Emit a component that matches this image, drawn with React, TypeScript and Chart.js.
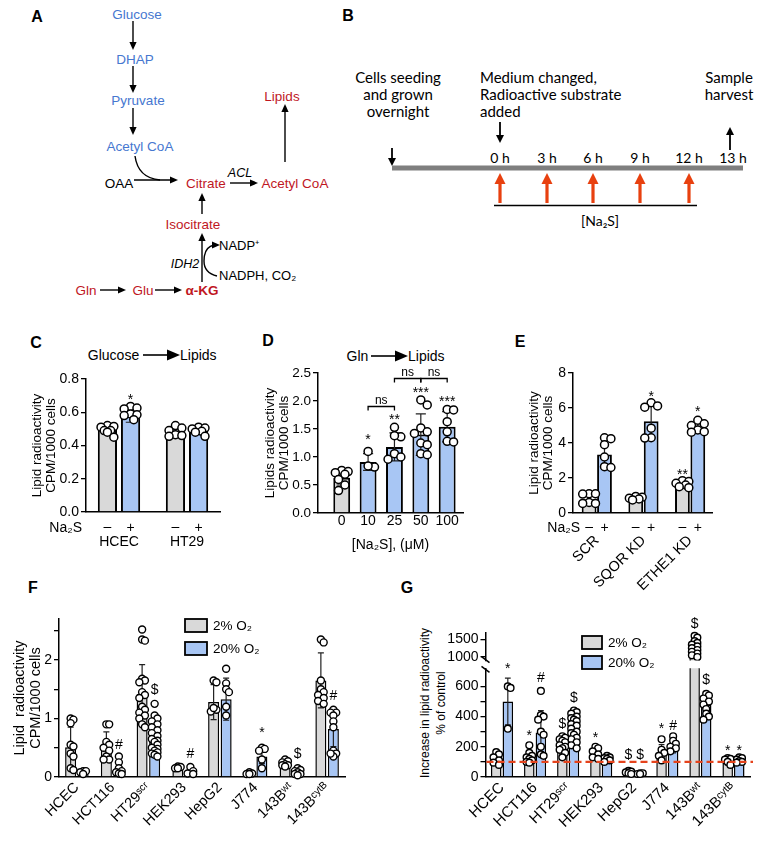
import React, { useEffect, useRef } from 'react';
import { Chart, registerables } from 'chart.js';

Chart.register(...registerables);

const FONT = '"Liberation Sans", Arial, Helvetica, sans-serif';
const FONT_B = 'Lato, "Liberation Sans", sans-serif';
const GRAY = '#d9d9d9';
const BLUE = '#a8c6f4';
const TXT_BLUE = '#4677d0';
const TXT_RED = '#c0171f';
const ARROW_RED = '#e8400f';

Chart.defaults.font.family = FONT;
Chart.defaults.color = '#000';

// ---------------- Panel C : Glucose -> Lipids ----------------
const cGroups = ['HCEC', 'HT29'];
const cCtrlMeans = [0.5, 0.48];
const cCtrlSds = [0.02, 0.025];
const cNa2sMeans = [0.58, 0.49];
const cNa2sSds = [0.04, 0.02];
const cCtrlPoints = [
  [0.52, 0.515, 0.51, 0.49, 0.49, 0.48, 0.45],
  [0.52, 0.505, 0.49, 0.465, 0.46, 0.455],
];
const cNa2sPoints = [
  [0.635, 0.625, 0.62, 0.59, 0.585, 0.58, 0.555],
  [0.51, 0.505, 0.5, 0.485, 0.48, 0.455],
];
const cSigns = [['–', '–'], ['+', '+']];
const cYTicks = [0, 0.2, 0.4, 0.6, 0.8];
const cYLabels = ['0.0', '0.2', '0.4', '0.6', '0.8'];
const cNotes = [{ g: 0, s: 1, y: 0.69, t: '*' }];

// ---------------- Panel D : Gln -> Lipids ----------------
const dGroups = ['0', '10', '25', '50', '100'];
const dMeans = [0.63, 0.91, 1.18, 1.4, 1.54];
const dSds = [0.13, 0.15, 0.25, 0.37, 0.27];
const dPoints = [
  [0.76, 0.74, 0.72, 0.69, 0.6, 0.5, 0.4],
  [1.1, 0.82, 0.84],
  [1.53, 1.36, 1.38, 1.06, 0.96, 1.0],
  [2.02, 1.93, 1.52, 1.45, 1.42, 1.25, 1.22, 1.06, 1.04],
  [1.85, 1.84, 1.63, 1.45, 1.28, 1.27],
];
const dYTicks = [0, 0.5, 1, 1.5, 2, 2.5];
const dYLabels = ['0.0', '0.5', '1.0', '1.5', '2.0', '2.5'];
const dNotes = [
  { g: 1, s: 0, y: 1.36, t: '*' },
  { g: 2, s: 0, y: 1.71, t: '**' },
  { g: 3, s: 0, y: 2.2, t: '***' },
  { g: 4, s: 0, y: 2.04, t: '***' },
];
const dBrackets = [
  { g1: 1, g2: 2, y: 1.91, t: 'ns' },
  { g1: 2, g2: 3, y: 2.41, t: 'ns' },
  { g1: 3, g2: 4, y: 2.41, t: 'ns' },
];

// ---------------- Panel E : knock-downs ----------------
const eGroups = ['SCR', 'SQOR KD', 'ETHE1 KD'];
const eCtrlMeans = [0.78, 0.82, 1.65];
const eCtrlSds = [0.25, 0.08, 0.15];
const eNa2sMeans = [3.35, 5.25, 4.85];
const eNa2sSds = [0.72, 0.85, 0.25];
const eCtrlPoints = [
  [1.1, 1.1, 1.08, 0.6, 0.55, 0.55],
  [0.95, 0.9, 0.85, 0.8, 0.75],
  [1.85, 1.8, 1.7, 1.6, 1.5, 1.45],
];
const eNa2sPoints = [
  [4.3, 4.25, 3.9, 3.2, 2.65, 2.6],
  [6.3, 6.12, 6.05, 4.85, 4.3, 4.28],
  [5.3, 5.1, 5.0, 4.75, 4.65, 4.62],
];
const eSigns = [['–', '–', '–'], ['+', '+', '+']];
const eYTicks = [0, 2, 4, 6, 8];
const eYLabels = ['0', '2', '4', '6', '8'];
const eNotes = [
  { g: 1, s: 1, y: 6.8, t: '*' },
  { g: 2, s: 1, y: 5.94, t: '*' },
  { g: 2, s: 0, y: 2.36, t: '**' },
];

// ---------------- Panel F : cell lines, CPM ----------------
const cellLines = ['HCEC', 'HCT116', 'HT29ˢᶜʳ', 'HEK293', 'HepG2', 'J774', '143Bʷᵗ', '143Bᶜʸᵗᴮ'];
const oxLabels = ['2% O₂', '20% O₂'];
const fMeans2 = [0.51, 0.55, 1.42, 0.15, 1.28, 0.05, 0.22, 1.65];
const fSds2 = [0.34, 0.22, 0.5, 0.02, 0.3, 0.02, 0.04, 0.47];
const fMeans20 = [0.07, 0.13, 0.6, 0.07, 1.33, 0.35, 0.08, 0.82];
const fSds20 = [0.02, 0.1, 0.25, 0.05, 0.36, 0.12, 0.04, 0.3];
const fPoints2 = [
  [1.0, 0.98, 0.92, 0.55, 0.52, 0.4, 0.35, 0.15, 0.12],
  [0.9, 0.9, 0.6, 0.55, 0.5, 0.45, 0.35, 0.3, 0.3],
  [2.52, 2.35, 2.33, 1.68, 1.65, 1.62, 1.45, 1.4, 1.35, 1.2, 1.15, 1.1, 1.05, 1.0, 0.9, 0.85],
  [0.18, 0.17, 0.15, 0.15],
  [1.65, 1.62, 1.15, 1.12, 1.18],
  [0.08, 0.06, 0.05, 0.05],
  [0.3, 0.27, 0.25, 0.22, 0.2, 0.2, 0.18],
  [2.35, 2.3, 1.65, 1.5, 1.45, 1.4, 1.35, 1.3, 1.25],
];
const fPoints20 = [
  [0.1, 0.08, 0.1, 0.05],
  [0.35, 0.25, 0.15, 0.1, 0.08, 0.06, 0.05],
  [1.25, 1.05, 1.0, 0.95, 0.9, 0.85, 0.8, 0.75, 0.7, 0.65, 0.62, 0.6, 0.55, 0.5, 0.48, 0.45, 0.42, 0.4, 0.38, 0.35],
  [0.17, 0.1, 0.06, 0.05],
  [1.85, 1.6, 1.5, 1.45, 1.2, 1.05],
  [0.5, 0.48, 0.45, 0.3, 0.15],
  [0.15, 0.12, 0.1, 0.08, 0.05, 0.05, 0.03],
  [1.15, 1.1, 1.1, 1.05, 0.95, 0.85, 0.45, 0.4, 0.35, 0.4],
];
const fYTicks = [0, 0.5, 1, 1.5, 2, 2.5];
const fYLabels = ['0', '', '1', '', '2', ''];
const fNotes = [
  { g: 1, s: 1, y: 0.56, t: '#' },
  { g: 2, s: 1, y: 1.5, t: '$' },
  { g: 3, s: 1, y: 0.41, t: '#' },
  { g: 5, s: 1, y: 0.8, t: '*' },
  { g: 6, s: 1, y: 0.41, t: '$' },
  { g: 7, s: 1, y: 1.4, t: '#' },
];

// ---------------- Panel G : % of control ----------------
const gMeans2 = [110, 130, 210, 155, 32, 160, 1250, 95];
const gSds2 = [30, 40, 45, 30, 8, 55, 200, 15];
const gMeans20 = [500, 295, 320, 105, 22, 195, 480, 100];
const gSds20 = [155, 145, 75, 15, 3, 35, 60, 15];
const gPoints2 = [
  [165, 150, 130, 110, 95, 80],
  [210, 160, 140, 130, 120, 110, 100, 95],
  [270, 260, 250, 240, 230, 210, 200, 190, 180, 160, 130],
  [200, 190, 170, 150, 130, 120],
  [40, 35, 30, 25, 20],
  [250, 180, 160, 140, 110],
  [1600, 1550, 1450, 1400, 1350, 1300, 1250, 1200, 1150, 1100, 1050, 1000],
  [125, 120, 115, 100, 80],
];
const gPoints20 = [
  [600, 590, 320],
  [570, 410, 400, 380, 300, 280, 200, 150, 140],
  [440, 430, 420, 400, 390, 380, 370, 350, 340, 320, 300, 290, 280, 260, 250, 230, 210, 190],
  [140, 130, 125, 120, 110, 100],
  [25, 25, 20, 20],
  [270, 240, 220, 200, 190, 170],
  [550, 540, 520, 500, 480, 450, 420, 400, 380],
  [130, 125, 115, 105, 100, 95],
];
const gLowerTicks = [0, 100, 200, 300, 400, 500, 600];
const gLowerLabels = ['0', '', '200', '', '400', '', '600'];
const gUpperTicks = [1000, 1500];
const gUpperLabels = ['1000', '1500'];
const gLowerMax = 720;
const gUpperMin = 900;
const gUpperMax = 1680;
const gControlLevel = 100;
const gNotes = [
  { g: 0, s: 1, y: 735, t: '*' },
  { g: 1, s: 0, y: 291, t: '*' },
  { g: 1, s: 1, y: 662, t: '#' },
  { g: 2, s: 0, y: 358, t: '$' },
  { g: 2, s: 1, y: 530, t: '$' },
  { g: 3, s: 0, y: 278, t: '*' },
  { g: 4, s: 0, y: 152, t: '$' },
  { g: 4, s: 1, y: 152, t: '$' },
  { g: 5, s: 0, y: 338, t: '*' },
  { g: 5, s: 1, y: 344, t: '#' },
  { g: 6, s: 0, y: 1970, t: '$' },
  { g: 6, s: 1, y: 649, t: '$' },
  { g: 7, s: 0, y: 192, t: '*' },
  { g: 7, s: 1, y: 192, t: '*' },
];

// ======================================================================

type Series = { means: number[]; sds: number[]; points: number[][]; colors: any };
type Note = { g: number; s: number; y: number; t: string };
type Bracket = { g1: number; g2: number; y: number; t: string };
type Spec = any;

function placeSwarm(chart: any, p: Spec) {
  chart.data.datasets.forEach((ds: any, di: number) => {
    if (ds.swarmOf === undefined) return;
    const meta = chart.getDatasetMeta(di);
    const barMeta = chart.getDatasetMeta(ds.swarmOf);
    const groups: Record<string, any[]> = {};
    meta.data.forEach((el: any, j: number) => {
      const g = ds.data[j].x;
      (groups[g] = groups[g] || []).push(el);
    });
    Object.keys(groups).forEach((k) => {
      const bar: any = barMeta.data[+k];
      if (!bar) return;
      const cx = bar.x;
      const half = bar.width / 2;
      const r = p.radius;
      const minD = 2 * r * p.swarmOverlap;
      const step = r * 0.8;
      const maxOff = Math.max(half * p.swarmWidth, r);
      const els = groups[k].slice().sort((a: any, b: any) => a.y - b.y);
      const placed: { x: number; y: number }[] = [];
      els.forEach((el: any) => {
        let best = 0;
        let bestScore = -Infinity;
        for (let n = 0; n < 30; n++) {
          const off = n === 0 ? 0 : (n % 2 ? 1 : -1) * Math.ceil(n / 2) * step;
          if (Math.abs(off) > maxOff) continue;
          let dmin = Infinity;
          placed.forEach((q) => {
            const d = Math.hypot(cx + off - q.x, el.y - q.y);
            if (d < dmin) dmin = d;
          });
          if (dmin >= minD) { best = off; bestScore = Infinity; break; }
          if (dmin > bestScore) { bestScore = dmin; best = off; }
        }
        el.x = cx + best;
        placed.push({ x: el.x, y: el.y });
      });
    });
  });
}

function drawErrorBar(chart: any, di: number, p: Spec) {
  const ds: any = chart.data.datasets[di];
  if (!ds.sds) return;
  const meta = chart.getDatasetMeta(di);
  const y = chart.scales.y;
  const ctx = chart.ctx;
  ctx.save();
  ctx.beginPath();
  ctx.rect(0, y.top, chart.width, y.bottom - y.top);
  ctx.clip();
  ctx.strokeStyle = '#222';
  ctx.lineWidth = 1.2;
  meta.data.forEach((el: any, i: number) => {
    const m = ds.means[i];
    const s = ds.sds[i];
    if (!s) return;
    const yt = y.getPixelForValue(m + s);
    const yb = y.getPixelForValue(m - s);
    const cw = (el.width * p.capFrac) / 2;
    ctx.beginPath();
    ctx.moveTo(el.x, yb);
    ctx.lineTo(el.x, yt);
    ctx.moveTo(el.x - cw, yt);
    ctx.lineTo(el.x + cw, yt);
    ctx.moveTo(el.x - cw, yb);
    ctx.lineTo(el.x + cw, yb);
    ctx.stroke();
  });
  ctx.restore();
}

function centeredText(ctx: any, t: string, x: number, yc: number) {
  ctx.textBaseline = 'alphabetic';
  const m = ctx.measureText(t);
  ctx.fillText(t, x, yc + (m.actualBoundingBoxAscent - m.actualBoundingBoxDescent) / 2);
}

function drawExtras(chart: any, p: Spec) {
  const ctx = chart.ctx;
  const area = chart.chartArea;
  const y = chart.scales.y;
  const barX = (s: number, g: number) => (chart.getDatasetMeta(s).data[g] as any).x;
  ctx.save();
  ctx.fillStyle = '#000';
  ctx.strokeStyle = '#000';
  if (p.refLine !== undefined) {
    const yy = y.getPixelForValue(p.refLine);
    ctx.save();
    ctx.strokeStyle = '#e5431c';
    ctx.lineWidth = 2.2;
    ctx.setLineDash([7, 4]);
    ctx.beginPath();
    ctx.moveTo(area.left + 1, yy);
    ctx.lineTo(area.right + 3, yy);
    ctx.stroke();
    ctx.restore();
  }
  if (p.notes) {
    ctx.font = `${p.noteFont}px ${FONT}`;
    ctx.textAlign = 'center';
    p.notes.forEach((n: Note) => {
      centeredText(ctx, n.t, barX(n.s, n.g), y.getPixelForValue(n.y));
    });
  }
  if (p.brackets) {
    ctx.lineWidth = 1.3;
    ctx.font = `12px ${FONT}`;
    ctx.textAlign = 'center';
    p.brackets.forEach((b: Bracket) => {
      const x1 = barX(0, b.g1);
      const x2 = barX(0, b.g2);
      const yy = Math.round(y.getPixelForValue(b.y)) + 0.5;
      ctx.beginPath();
      ctx.moveTo(x1, yy + 4);
      ctx.lineTo(x1, yy);
      ctx.lineTo(x2, yy);
      ctx.lineTo(x2, yy + 4);
      ctx.stroke();
      centeredText(ctx, b.t, (x1 + x2) / 2, yy - 6.5);
    });
  }
  if (p.signs) {
    const sg = p.signs;
    ctx.font = `${sg.font}px ${FONT}`;
    ctx.textAlign = 'center';
    sg.labels.forEach((row: string[], s: number) => {
      row.forEach((t, g) => centeredText(ctx, t, barX(s, g), area.bottom + sg.dy));
    });
    ctx.textAlign = 'right';
    ctx.textBaseline = 'middle';
    ctx.fillText(sg.name, area.left + sg.nameDx, area.bottom + sg.dy + 1);
  }
  if (p.legend) {
    const lg = p.legend;
    lg.labels.forEach((t: string, i: number) => {
      const x0 = area.left + lg.dx;
      const y0 = area.top + lg.dy + i * lg.step;
      ctx.fillStyle = lg.colors[i];
      ctx.fillRect(x0, y0, lg.w, lg.h);
      ctx.lineWidth = 1.8;
      ctx.strokeStyle = '#000';
      ctx.strokeRect(x0, y0, lg.w, lg.h);
      ctx.fillStyle = '#000';
      ctx.font = `${lg.font}px ${FONT}`;
      ctx.textAlign = 'left';
      ctx.textBaseline = 'middle';
      ctx.fillText(t, x0 + lg.w + 6, y0 + lg.h / 2 + 0.5);
    });
  }
  if (p.breakMark) {
    ctx.lineWidth = 1.5;
    ctx.strokeStyle = '#000';
    const bx = area.left;
    const by = p.breakMark === 'top' ? area.top : area.bottom;
    ctx.beginPath();
    if (p.breakMark === 'top') {
      ctx.moveTo(bx - 4, by - 2);
      ctx.lineTo(bx + 4, by + 4);
    } else {
      ctx.moveTo(bx - 4, by - 4);
      ctx.lineTo(bx + 4, by + 2);
    }
    ctx.stroke();
  }
  ctx.restore();
}

function buildConfig(p: Spec): any {
  const datasets: any[] = [];
  p.series.forEach((s: Series) => {
    datasets.push({
      type: 'bar',
      data: s.means.map((m, i) => ({ x: i, y: m })),
      backgroundColor: s.colors,
      borderColor: '#000',
      borderWidth: p.barBorder,
      categoryPercentage: p.catPct,
      barPercentage: p.barPct,
      order: 2,
      clip: 0,
      means: s.means,
      sds: s.sds,
    });
  });
  p.series.forEach((s: Series, si: number) => {
    datasets.push({
      type: 'scatter',
      data: s.points.flatMap((arr, g) => arr.map((v) => ({ x: g, y: v }))),
      pointRadius: p.radius,
      pointHoverRadius: p.radius,
      pointBackgroundColor: '#fff',
      pointBorderColor: '#000',
      pointBorderWidth: p.pointBorder,
      order: 1,
      clip: p.pointClip,
      swarmOf: si,
    });
  });

  return {
    type: 'bar',
    data: { datasets },
    options: {
      responsive: false,
      animation: false,
      devicePixelRatio: 1,
      events: [],
      layout: { padding: p.pad },
      plugins: { legend: { display: false }, tooltip: { enabled: false } },
      scales: {
        x: {
          type: 'linear',
          min: p.xMin,
          max: p.xMax,
          bounds: 'data',
          offset: false,
          display: p.showX,
          afterBuildTicks: (s: any) => { s.ticks = p.groups.map((_: string, i: number) => ({ value: i })); },
          afterFit: (s: any) => { if (p.showX) s.height = p.xh; },
          ticks: {
            autoSkip: false,
            minRotation: p.rot,
            maxRotation: p.rot,
            padding: p.xPad,
            font: { family: FONT, size: p.xFont },
            color: '#000',
            callback: (_v: any, i: number) => p.groups[i],
          },
          grid: { display: false, drawTicks: false, offset: false },
          border: { display: true, color: '#000', width: 1.5 },
          title: p.xTitle
            ? { display: true, text: p.xTitle, font: { family: FONT, size: p.xTitleFont }, color: '#000', padding: 0 }
            : { display: false },
        },
        y: {
          type: 'linear',
          min: p.yMin,
          max: p.yMax,
          bounds: 'data',
          afterBuildTicks: (s: any) => { s.ticks = p.yTicks.map((v: number) => ({ value: v })); },
          afterFit: (s: any) => { s.width = p.yw; },
          ticks: {
            autoSkip: false,
            padding: 2,
            font: { family: FONT, size: p.yTickFont },
            color: '#000',
            callback: (_v: any, i: number) => p.yLabels[i],
          },
          grid: { display: true, drawOnChartArea: false, drawTicks: true, tickLength: 5, color: '#000', lineWidth: 1.3 },
          border: { display: true, color: '#000', width: 1.5 },
          title: p.yTitle
            ? { display: true, text: p.yTitle, font: { family: FONT, size: p.yTitleFont, lineHeight: p.yTitleLH }, color: '#000', padding: 0 }
            : { display: false },
        },
      },
    },
    plugins: [
      {
        id: 'extras',
        beforeDatasetsDraw(chart: any) { placeSwarm(chart, p); },
        afterDatasetDraw(chart: any, args: any) { drawErrorBar(chart, args.index, p); },
        afterDraw(chart: any) { drawExtras(chart, p); },
      },
    ],
  };
}

const specC: Spec = {
  box: { left: 31, top: 365, width: 199, height: 192 },
  yw: 55, xh: 45, pad: { top: 14, right: 10, bottom: 0, left: 0 },
  xMin: -0.485, xMax: 1.485, yMin: 0, yMax: 0.8,
  yTicks: cYTicks, yLabels: cYLabels, yTickFont: 14,
  groups: cGroups, showX: true, rot: 0, xPad: 22, xFont: 14,
  catPct: 0.68, barPct: 0.83, barBorder: 2,
  series: [
    { means: cCtrlMeans, sds: cCtrlSds, points: cCtrlPoints, colors: GRAY },
    { means: cNa2sMeans, sds: cNa2sSds, points: cNa2sPoints, colors: BLUE },
  ],
  radius: 4, pointBorder: 1.5, pointClip: false, capFrac: 0.5, swarmOverlap: 0.85, swarmWidth: 1.0,
  yTitle: ['Lipid radioactivity', 'CPM/1000 cells'], yTitleFont: 13.5, yTitleLH: 1.0,
  notes: cNotes, noteFont: 14,
  signs: { labels: cSigns, dy: 15, name: 'Na₂S', nameDx: -4, font: 14 },
};

const specD: Spec = {
  box: { left: 264, top: 359, width: 211, height: 195 },
  yw: 54, xh: 41, pad: { top: 14, right: 12, bottom: 0, left: 0 },
  xMin: -0.9, xMax: 4.6, yMin: 0, yMax: 2.5,
  yTicks: dYTicks, yLabels: dYLabels, yTickFont: 13.5,
  groups: dGroups, showX: true, rot: 0, xPad: 0, xFont: 14,
  catPct: 0.8, barPct: 0.8, barBorder: 2,
  series: [{ means: dMeans, sds: dSds, points: dPoints, colors: [GRAY, BLUE, BLUE, BLUE, BLUE] }],
  radius: 4, pointBorder: 1.5, pointClip: false, capFrac: 0.6, swarmOverlap: 0.85, swarmWidth: 1.1,
  yTitle: ['Lipids radioactivity', 'CPM/1000 cells'], yTitleFont: 13.5, yTitleLH: 1.0,
  xTitle: '[Na₂S], (μM)', xTitleFont: 14,
  notes: dNotes, noteFont: 14, brackets: dBrackets,
};

const specE: Spec = {
  box: { left: 528, top: 359, width: 195, height: 249 },
  yw: 45, xh: 95, pad: { top: 14, right: 10, bottom: 0, left: 0 },
  xMin: -0.51, xMax: 2.47, yMin: 0, yMax: 8,
  yTicks: eYTicks, yLabels: eYLabels, yTickFont: 14,
  groups: eGroups, showX: true, rot: 45, xPad: 19, xFont: 14.5,
  catPct: 0.66, barPct: 0.96, barBorder: 2,
  series: [
    { means: eCtrlMeans, sds: eCtrlSds, points: eCtrlPoints, colors: GRAY },
    { means: eNa2sMeans, sds: eNa2sSds, points: eNa2sPoints, colors: BLUE },
  ],
  radius: 4, pointBorder: 1.5, pointClip: false, capFrac: 0.5, swarmOverlap: 0.85, swarmWidth: 1.0,
  yTitle: ['Lipid radioactivity', 'CPM/1000 cells'], yTitleFont: 13.5, yTitleLH: 1.0,
  notes: eNotes, noteFont: 14,
  signs: { labels: eSigns, dy: 14, name: 'Na₂S', nameDx: 7, font: 14 },
};

const specF: Spec = {
  box: { left: 12, top: 605, width: 343, height: 236 },
  yw: 47, xh: 64, pad: { top: 14, right: 10, bottom: 0, left: 0 },
  xMin: -0.5, xMax: 7.5, yMin: 0, yMax: 2.7,
  yTicks: fYTicks, yLabels: fYLabels, yTickFont: 14,
  groups: cellLines, showX: true, rot: 45, xPad: 2, xFont: 14.5,
  catPct: 0.7, barPct: 0.88, barBorder: 1.5,
  series: [
    { means: fMeans2, sds: fSds2, points: fPoints2, colors: GRAY },
    { means: fMeans20, sds: fSds20, points: fPoints20, colors: BLUE },
  ],
  radius: 3.5, pointBorder: 1.4, pointClip: false, capFrac: 0.55, swarmOverlap: 0.6, swarmWidth: 0.75,
  yTitle: ['Lipid  radioactivity', 'CPM/1000 cells'], yTitleFont: 14.5, yTitleLH: 1.1,
  notes: fNotes, noteFont: 14,
  legend: { dx: 126, dy: 0, w: 22, h: 13, step: 23, labels: oxLabels, colors: [GRAY, BLUE], font: 13.5 },
};

const gSeries = [
  { means: gMeans2, sds: gSds2, points: gPoints2, colors: GRAY },
  { means: gMeans20, sds: gSds20, points: gPoints20, colors: BLUE },
];

const specGLower: Spec = {
  box: { left: 440, top: 620, width: 322, height: 221 },
  yw: 45.5, xh: 64, pad: { top: 48.3, right: 12, bottom: 0, left: 0 },
  xMin: -0.5, xMax: 7.5, yMin: 0, yMax: gLowerMax,
  yTicks: gLowerTicks, yLabels: gLowerLabels, yTickFont: 14,
  groups: cellLines, showX: true, rot: 45, xPad: 2, xFont: 15,
  catPct: 0.7, barPct: 0.91, barBorder: 1.5,
  series: gSeries,
  radius: 3.4, pointBorder: 1.4, pointClip: { left: 20, right: 20, top: 0, bottom: 10 }, capFrac: 0.55,
  swarmOverlap: 0.6, swarmWidth: 0.75,
  notes: gNotes.filter((n) => n.y < 1000), noteFont: 14,
  legend: { dx: 96.5, dy: -32.3, w: 20, h: 13, step: 20, labels: oxLabels, colors: [GRAY, BLUE], font: 13.5 },
  refLine: gControlLevel,
  breakMark: 'top',
};

const specGUpper: Spec = {
  box: { left: 440, top: 600, width: 322, height: 71 },
  yw: 45.5, xh: 0, pad: { top: 33, right: 12, bottom: 10, left: 0 },
  xMin: -0.5, xMax: 7.5, yMin: gUpperMin, yMax: gUpperMax,
  yTicks: gUpperTicks, yLabels: gUpperLabels, yTickFont: 14,
  groups: cellLines, showX: false, rot: 45, xPad: 2, xFont: 15,
  catPct: 0.7, barPct: 0.91, barBorder: 1.5,
  series: gSeries,
  radius: 3.4, pointBorder: 1.4, pointClip: { left: 20, right: 20, top: 10, bottom: 0 }, capFrac: 0.55,
  swarmOverlap: 0.6, swarmWidth: 0.75,
  notes: gNotes.filter((n) => n.y >= 1000), noteFont: 14,
  breakMark: 'bottom',
};

const panels = [specC, specD, specE, specF, specGLower, specGUpper];

function ChartBox({ spec }: { spec: Spec }) {
  const ref = useRef<HTMLCanvasElement>(null);
  useEffect(() => {
    const chart = new Chart(ref.current as HTMLCanvasElement, buildConfig(spec));
    return () => chart.destroy();
  }, [spec]);
  const b = spec.box;
  return (
    <div style={{ position: 'absolute', left: b.left, top: b.top, width: b.width, height: b.height }}>
      <canvas ref={ref} width={b.width} height={b.height} style={{ width: b.width, height: b.height, display: 'block' }} />
    </div>
  );
}

// ---------------- Diagram helpers (SVG) ----------------
function Arrow({ x1, y1, x2, y2, color = '#000', w = 1.4, head = 8, hw = 3.6 }: any) {
  const dx = x2 - x1;
  const dy = y2 - y1;
  const L = Math.hypot(dx, dy);
  const ux = dx / L;
  const uy = dy / L;
  const bx = x2 - ux * head;
  const by = y2 - uy * head;
  const px = -uy * hw;
  const py = ux * hw;
  return (
    <g>
      <line x1={x1} y1={y1} x2={bx + ux} y2={by + uy} stroke={color} strokeWidth={w} />
      <polygon points={`${x2},${y2} ${bx + px},${by + py} ${bx - px},${by - py}`} fill={color} />
    </g>
  );
}

function T({ x, y, c = '#000', s = 13.5, a = 'middle', w = 'normal', it = false, f = FONT, children }: any) {
  return (
    <text x={x} y={y} fill={c} fontSize={s} textAnchor={a} fontWeight={w} fontStyle={it ? 'italic' : 'normal'} fontFamily={f} dominantBaseline="central">
      {children}
    </text>
  );
}

function Diagrams() {
  const redArrowX = [500, 547, 593, 640, 689];
  const timeLabels = [
    { x: 500, t: '0 h' },
    { x: 547, t: '3 h' },
    { x: 593, t: '6 h' },
    { x: 640, t: '9 h' },
    { x: 689, t: '12 h' },
    { x: 733, t: '13 h' },
  ];
  return (
    <svg width={768} height={841} style={{ position: 'absolute', left: 0, top: 0 }}>
      {/* panel letters */}
      <T x={37} y={16} s={16} w="bold">A</T>
      <T x={348} y={15} s={16} w="bold">B</T>
      <T x={36} y={342} s={16} w="bold">C</T>
      <T x={268} y={340} s={16} w="bold">D</T>
      <T x={520} y={341} s={16} w="bold">E</T>
      <T x={33} y={587} s={16} w="bold">F</T>
      <T x={407} y={587} s={16} w="bold">G</T>

      {/* Panel A */}
      <T x={137} y={14} c={TXT_BLUE}>Glucose</T>
      <Arrow x1={133} y1={21} x2={133} y2={50} />
      <T x={135} y={59} c={TXT_BLUE}>DHAP</T>
      <Arrow x1={133} y1={66} x2={133} y2={93} />
      <T x={138} y={100} c={TXT_BLUE}>Pyruvate</T>
      <Arrow x1={133} y1={108} x2={133} y2={135} />
      <T x={140} y={146} c={TXT_BLUE}>Acetyl CoA</T>
      <path d="M135,156 Q138,178 160,180" fill="none" stroke="#000" strokeWidth={1.4} />
      <T x={119} y={183}>OAA</T>
      <Arrow x1={134} y1={180} x2={178} y2={180} />
      <T x={206} y={183} c={TXT_RED}>Citrate</T>
      <T x={240} y={173} s={12.5} it>ACL</T>
      <Arrow x1={230} y1={183} x2={258} y2={183} />
      <T x={295} y={183} c={TXT_RED}>Acetyl CoA</T>
      <Arrow x1={285} y1={162} x2={285} y2={104} />
      <T x={282} y={96} c={TXT_RED}>Lipids</T>
      <Arrow x1={202} y1={214} x2={202} y2={193} />
      <T x={193} y={224} c={TXT_RED}>Isocitrate</T>
      <Arrow x1={202} y1={282} x2={202} y2={233} />
      <path d="M217,276 Q204,273 204,261 Q204,247 214,245" fill="none" stroke="#000" strokeWidth={1.4} />
      <polygon points="220,245 212,241.4 212,248.6" fill="#000" />
      <T x={219} y={245} s={13} a="start">NADP⁺</T>
      <T x={219} y={275} s={13} a="start">NADPH, CO₂</T>
      <T x={185} y={264} s={12.5} it>IDH2</T>
      <T x={86} y={290} c={TXT_RED}>Gln</T>
      <Arrow x1={100} y1={290} x2={126} y2={290} />
      <T x={143} y={290} c={TXT_RED}>Glu</T>
      <Arrow x1={155} y1={290} x2={182} y2={290} />
      <T x={202} y={290} c={TXT_RED} w="bold">α-KG</T>

      {/* Panel B */}
      <T x={398} y={77} s={15} f={FONT_B}>Cells seeding</T>
      <T x={398} y={94} s={15} f={FONT_B}>and grown</T>
      <T x={398} y={111} s={15} f={FONT_B}>overnight</T>
      <T x={480} y={77} s={15} f={FONT_B} a="start">Medium changed,</T>
      <T x={480} y={94} s={15} f={FONT_B} a="start">Radioactive substrate</T>
      <T x={480} y={111} s={15} f={FONT_B} a="start">added</T>
      <T x={729} y={77} s={15} f={FONT_B}>Sample</T>
      <T x={729} y={94} s={15} f={FONT_B}>harvest</T>
      <Arrow x1={392} y1={148} x2={392} y2={166} w={1.8} head={8} hw={4} />
      <Arrow x1={500} y1={122} x2={500} y2={143} w={1.8} head={8} hw={4} />
      <Arrow x1={730} y1={150} x2={730} y2={127} w={1.8} head={8} hw={4} />
      {timeLabels.map((tl) => (
        <T key={tl.t} x={tl.x} y={157} s={14} f={FONT_B}>{tl.t}</T>
      ))}
      <rect x={392} y={165.5} width={351} height={5} fill="#7f7f7f" />
      {redArrowX.map((x) => (
        <Arrow key={x} x1={x} y1={203} x2={x} y2={173} color={ARROW_RED} w={3.2} head={11} hw={5.5} />
      ))}
      <line x1={494} y1={205.5} x2={697} y2={205.5} stroke="#000" strokeWidth={1.5} />
      <T x={600} y={220} s={14} f={FONT_B}>[Na₂S]</T>

      {/* panel titles C, D */}
      <T x={113.5} y={355} s={14}>Glucose</T>
      <Arrow x1={143} y1={355} x2={180} y2={355} w={1.6} head={13} hw={5.5} />
      <T x={180} y={355} s={14} a="start">Lipids</T>
      <T x={357.5} y={356} s={14}>Gln</T>
      <Arrow x1={371} y1={356} x2={408} y2={356} w={1.6} head={13} hw={5.5} />
      <T x={408} y={356} s={14} a="start">Lipids</T>

      {/* G y-axis title */}
      <g transform="translate(425,703) rotate(-90)">
        <T x={0} y={0} s={12}>Increase in lipid radioactivity</T>
      </g>
      <g transform="translate(441,703) rotate(-90)">
        <T x={0} y={0} s={12}>% of control</T>
      </g>
    </svg>
  );
}

export default function App() {
  return (
    <div style={{ position: 'absolute', left: 0, top: 0, width: 768, height: 841, background: '#fff', overflow: 'hidden' }}>
      <Diagrams />
      {panels.map((p, i) => (
        <ChartBox key={i} spec={p} />
      ))}
    </div>
  );
}
